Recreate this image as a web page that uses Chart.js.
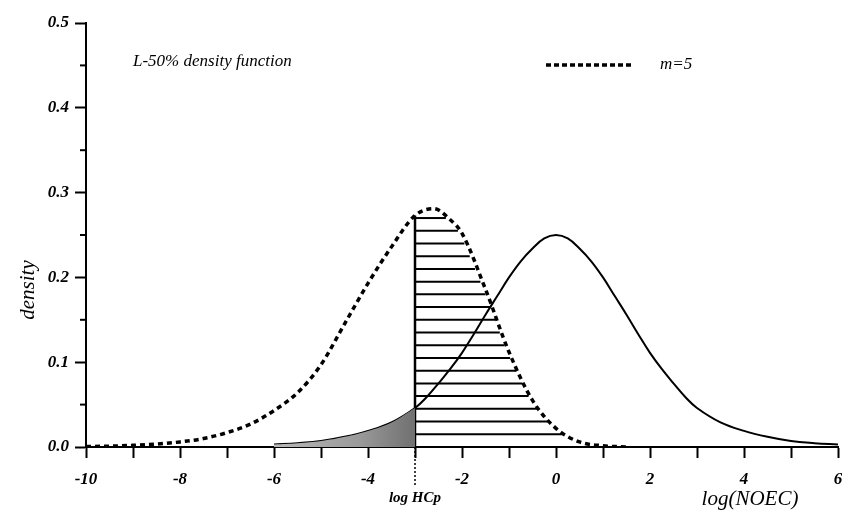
<!DOCTYPE html>
<html><head><meta charset="utf-8">
<script src="https://cdn.jsdelivr.net/npm/chart.js@4"></script>
<style>html,body{margin:0;padding:0;background:#fff}</style>
</head><body>
<canvas id="c" width="842" height="513"></canvas>
<script>
// ---- data ----
const solidX = [-6,-5.5,-5,-4.5,-4,-3.5,-3,-2.75,-2.5,-2.25,-2,-1.75,-1.5,-1.25,-1,-0.75,-0.5,-0.25,0,0.25,0.5,0.75,1,1.25,1.5,1.75,2,2.25,2.5,2.75,3,3.5,4,4.5,5,5.5,6];
const solidY = [0.003,0.0045,0.007,0.012,0.019,0.029,0.046,0.059,0.075,0.092,0.111,0.133,0.156,0.178,0.200,0.219,0.234,0.246,0.250,0.246,0.234,0.219,0.200,0.178,0.156,0.133,0.111,0.092,0.075,0.059,0.046,0.029,0.019,0.012,0.007,0.0045,0.003];
const dashX = [-10,-9.5,-9,-8.5,-8,-7.5,-7,-6.5,-6,-5.5,-5,-4.5,-4,-3.5,-3,-2.6,-2.25,-2,-1.5,-1,-0.5,0,0.5,1,1.5];
const dashY = [0.0005,0.001,0.002,0.0035,0.006,0.010,0.017,0.027,0.043,0.064,0.097,0.145,0.193,0.236,0.273,0.281,0.268,0.252,0.186,0.112,0.055,0.022,0.006,0.0015,0];
const hcpX = -3;          // log HCp
const shadeFrom = -6;     // start of the grey area
const hatchLevels = [0.015,0.03,0.045,0.06,0.075,0.09,0.105,0.12,0.135,0.15,0.165,0.18,0.195,0.21,0.225,0.24,0.255,0.27];
const xTickValues = [-10,-8,-6,-4,-2,0,2,4,6];
const yTickValues = [0.0,0.1,0.2,0.3,0.4,0.5];
const yMinorValues = [0.05,0.15,0.25,0.35,0.45];

const pts = (xs, ys) => xs.map((x, i) => ({x, y: ys[i]}));
const solidPts = pts(solidX, solidY);
const dashPts = pts(dashX, dashY);
const shadePts = solidPts.filter(p => p.x >= shadeFrom && p.x <= hcpX);
const dashAtHcp = dashY[dashX.indexOf(hcpX)];

// right-side crossing of the dashed curve for each hatch level
const peakIdx = dashY.indexOf(Math.max(...dashY));
function rightX(level) {
  for (let i = peakIdx; i < dashX.length - 1; i++) {
    const y0 = dashY[i], y1 = dashY[i + 1];
    if (level <= y0 && level >= y1) {
      return dashX[i] + (y0 - level) / (y0 - y1) * (dashX[i + 1] - dashX[i]);
    }
  }
  return dashX[peakIdx];
}

const serif = "'Liberation Serif', 'DejaVu Serif', serif";
Chart.defaults.color = '#000';

function shadeFill(ctx) {
  const chart = ctx.chart;
  const x = chart.scales && chart.scales.x;
  if (!chart.chartArea || !x) return '#8c8c8c';
  const x0 = x.getPixelForValue(shadeFrom), x1 = x.getPixelForValue(hcpX);
  if (!isFinite(x0) || !isFinite(x1) || x0 === x1) return '#8c8c8c';
  const g = chart.ctx.createLinearGradient(x0, 0, x1, 0);
  g.addColorStop(0, '#b8b8b8');
  g.addColorStop(0.6, '#9a9a9a');
  g.addColorStop(1, '#707070');
  return g;
}

const datasets = [];
datasets.push({data: shadePts, borderWidth: 0, backgroundColor: shadeFill, fill: 'origin', pointRadius: 0, tension: 0.4});
hatchLevels.forEach(l => {
  datasets.push({data: [{x: hcpX, y: l}, {x: rightX(l) - 0.04, y: l}], borderColor: '#000', borderWidth: 2, pointRadius: 0, fill: false});
});
datasets.push({data: [{x: hcpX, y: 0}, {x: hcpX, y: dashAtHcp}], borderColor: '#000', borderWidth: 2.5, pointRadius: 0, fill: false});
datasets.push({data: dashPts, borderColor: '#000', borderWidth: 3.5, borderDash: [5, 4], pointRadius: 0, fill: false, cubicInterpolationMode: 'monotone'});
datasets.push({data: solidPts, borderColor: '#000', borderWidth: 2, pointRadius: 0, fill: false, tension: 0.4});

const decor = {
  id: 'decor',
  afterDraw(chart) {
    const {ctx, scales: {x, y}} = chart;
    const ax = x.getPixelForValue(-10), by = y.getPixelForValue(0);
    ctx.save();
    ctx.strokeStyle = '#000';
    // minor y ticks
    ctx.lineWidth = 2;
    yMinorValues.forEach(v => {
      const py = y.getPixelForValue(v);
      ctx.beginPath(); ctx.moveTo(ax - 6, py); ctx.lineTo(ax, py); ctx.stroke();
    });
    // dotted leader below log HCp
    const hx = x.getPixelForValue(hcpX);
    ctx.lineWidth = 1.5; ctx.setLineDash([2, 2]);
    ctx.beginPath(); ctx.moveTo(hx, by); ctx.lineTo(hx, by + 40); ctx.stroke();
    ctx.setLineDash([]);
    // legend
    ctx.lineWidth = 3.5; ctx.setLineDash([5, 3]);
    ctx.beginPath(); ctx.moveTo(546, 65); ctx.lineTo(634, 65); ctx.stroke();
    ctx.setLineDash([]);
    ctx.fillStyle = '#000';
    ctx.textBaseline = 'middle';
    ctx.font = 'italic 17px ' + serif;
    ctx.textAlign = 'left';
    ctx.fillText('m=5', 660, 65);
    ctx.fillText('L-50% density function', 133, 62);
    // axis titles
    ctx.font = 'italic 21px ' + serif;
    ctx.textAlign = 'center';
    ctx.fillText('log(NOEC)', 750, 499);
    ctx.font = 'italic bold 15px ' + serif;
    ctx.fillText('log HCp', hx, 498);
    ctx.save();
    ctx.translate(28, 290);
    ctx.rotate(-Math.PI / 2);
    ctx.font = 'italic 21px ' + serif;
    ctx.fillText('density', 0, 0);
    ctx.restore();
    ctx.restore();
  }
};

new Chart(document.getElementById('c'), {
  type: 'line',
  data: {datasets},
  options: {
    responsive: false,
    animation: false,
    layout: {padding: {top: 23, right: 4, left: 0, bottom: 0}},
    plugins: {legend: {display: false}, tooltip: {enabled: false}},
    scales: {
      x: {
        type: 'linear', min: -10, max: 6,
        afterBuildTicks: s => { s.ticks = []; for (let v = -10; v <= 6; v++) s.ticks.push({value: v}); },
        ticks: {autoSkip: false, maxRotation: 0, padding: 11,
          callback: v => xTickValues.includes(v) ? String(v) : '',
          font: {family: serif, size: 17, style: 'italic', weight: 'bold'}},
        grid: {drawOnChartArea: false, drawTicks: true, tickLength: 11, tickColor: '#000', tickWidth: 2},
        border: {display: true, color: '#000', width: 2},
        afterFit: s => { s.height = 66; s.paddingLeft = 0; s.paddingRight = 0; }
      },
      y: {
        type: 'linear', min: 0, max: 0.5,
        afterBuildTicks: s => { s.ticks = yTickValues.map(v => ({value: v})); },
        ticks: {padding: 6, callback: v => v.toFixed(1),
          font: {family: serif, size: 17, style: 'italic', weight: 'bold'}},
        grid: {drawOnChartArea: false, drawTicks: true, tickLength: 11, tickColor: '#000', tickWidth: 2},
        border: {display: true, color: '#000', width: 2},
        afterFit: s => { s.width = 86; s.paddingTop = 0; s.paddingBottom = 0; }
      }
    }
  },
  plugins: [decor]
});
</script>
</body></html>
